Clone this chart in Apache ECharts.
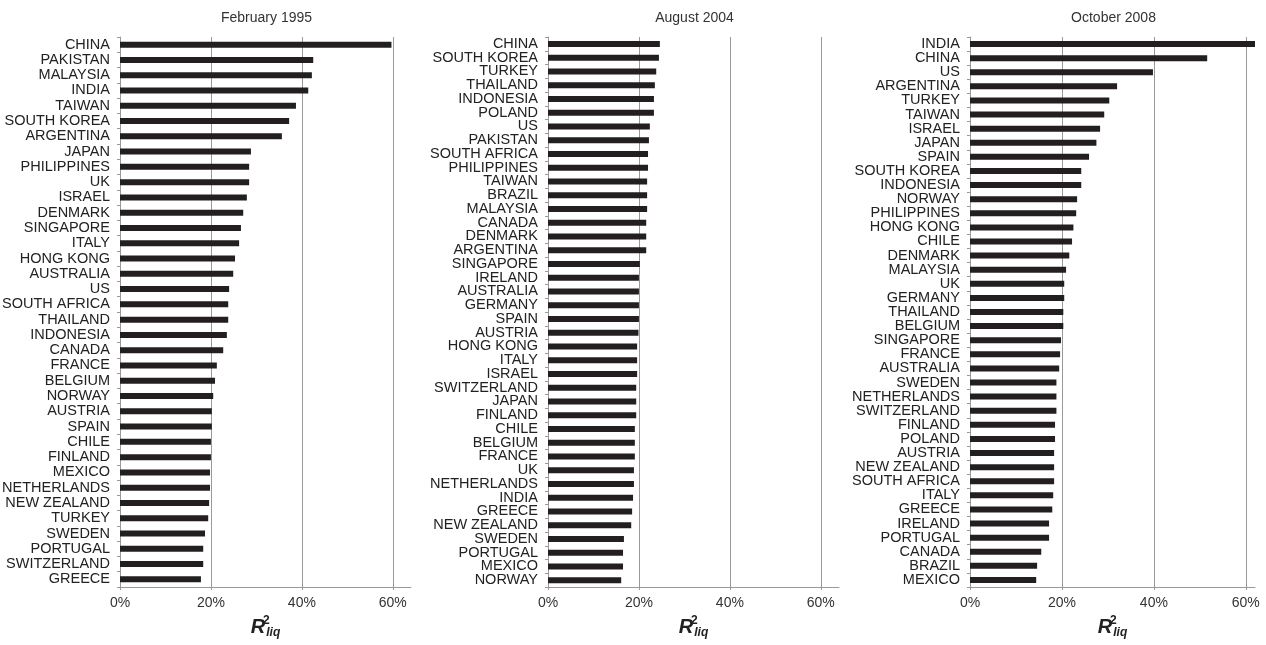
<!DOCTYPE html>
<html>
<head>
<meta charset="utf-8">
<script src="https://cdn.jsdelivr.net/npm/echarts@6/dist/echarts.min.js"></script>
<style>
  html, body { margin: 0; padding: 0; background: #fff; }
  #chart { width: 1266px; height: 645px; }
</style>
</head>
<body>
<div id="chart"></div>
<script>
// three snapshots of R2 liquidity by country (fractions)
const titles = ["February 1995", "August 2004", "October 2008"];

const countries1995 = ["CHINA", "PAKISTAN", "MALAYSIA", "INDIA", "TAIWAN", "SOUTH KOREA", "ARGENTINA", "JAPAN",
  "PHILIPPINES", "UK", "ISRAEL", "DENMARK", "SINGAPORE", "ITALY", "HONG KONG", "AUSTRALIA", "US",
  "SOUTH AFRICA", "THAILAND", "INDONESIA", "CANADA", "FRANCE", "BELGIUM", "NORWAY", "AUSTRIA", "SPAIN",
  "CHILE", "FINLAND", "MEXICO", "NETHERLANDS", "NEW ZEALAND", "TURKEY", "SWEDEN", "PORTUGAL",
  "SWITZERLAND", "GREECE"];
const values1995 = [0.597, 0.425, 0.422, 0.414, 0.387, 0.372, 0.356, 0.288, 0.284, 0.284, 0.279, 0.271,
  0.266, 0.262, 0.253, 0.249, 0.240, 0.238, 0.238, 0.235, 0.227, 0.213, 0.209, 0.205, 0.202, 0.202,
  0.200, 0.200, 0.198, 0.198, 0.196, 0.194, 0.187, 0.183, 0.183, 0.178];

const countries2004 = ["CHINA", "SOUTH KOREA", "TURKEY", "THAILAND", "INDONESIA", "POLAND", "US", "PAKISTAN",
  "SOUTH AFRICA", "PHILIPPINES", "TAIWAN", "BRAZIL", "MALAYSIA", "CANADA", "DENMARK", "ARGENTINA",
  "SINGAPORE", "IRELAND", "AUSTRALIA", "GERMANY", "SPAIN", "AUSTRIA", "HONG KONG", "ITALY", "ISRAEL",
  "SWITZERLAND", "JAPAN", "FINLAND", "CHILE", "BELGIUM", "FRANCE", "UK", "NETHERLANDS", "INDIA",
  "GREECE", "NEW ZEALAND", "SWEDEN", "PORTUGAL", "MEXICO", "NORWAY"];
const values2004 = [0.246, 0.244, 0.238, 0.235, 0.233, 0.233, 0.224, 0.222, 0.220, 0.220, 0.218, 0.218,
  0.218, 0.216, 0.216, 0.216, 0.202, 0.200, 0.200, 0.200, 0.200, 0.199, 0.196, 0.196, 0.196, 0.194,
  0.194, 0.194, 0.191, 0.191, 0.191, 0.189, 0.189, 0.187, 0.185, 0.183, 0.167, 0.165, 0.165, 0.161];

const countries2008 = ["INDIA", "CHINA", "US", "ARGENTINA", "TURKEY", "TAIWAN", "ISRAEL", "JAPAN", "SPAIN",
  "SOUTH KOREA", "INDONESIA", "NORWAY", "PHILIPPINES", "HONG KONG", "CHILE", "DENMARK", "MALAYSIA", "UK",
  "GERMANY", "THAILAND", "BELGIUM", "SINGAPORE", "FRANCE", "AUSTRALIA", "SWEDEN", "NETHERLANDS",
  "SWITZERLAND", "FINLAND", "POLAND", "AUSTRIA", "NEW ZEALAND", "SOUTH AFRICA", "ITALY", "GREECE",
  "IRELAND", "PORTUGAL", "CANADA", "BRAZIL", "MEXICO"];
const values2008 = [0.620, 0.516, 0.398, 0.320, 0.303, 0.292, 0.283, 0.275, 0.259, 0.242, 0.242, 0.233,
  0.231, 0.225, 0.222, 0.216, 0.209, 0.205, 0.205, 0.203, 0.203, 0.198, 0.196, 0.194, 0.188, 0.188,
  0.188, 0.185, 0.185, 0.183, 0.183, 0.183, 0.181, 0.179, 0.172, 0.172, 0.155, 0.146, 0.144];

const xTicks = [0, 0.2, 0.4, 0.6];

const panels = [
  { names: countries1995, values: values1995, left: 120, width: 291, max: 0.64 },
  { names: countries2004, values: values2004, left: 548, width: 291, max: 0.64 },
  { names: countries2008, values: values2008, left: 970, width: 285, max: 0.62 }
];

const chart = echarts.init(document.getElementById("chart"));

const font = "'Liberation Sans', Arial, sans-serif";

chart.setOption({
  animation: false,
  backgroundColor: "#fff",
  textStyle: { fontFamily: font },
  title: panels.map((p, i) => ({
    text: titles[i],
    left: p.left + p.width / 2 - 4,
    top: 6,
    textAlign: "center",
    textStyle: { fontSize: 14, fontWeight: "normal", color: "#333", fontFamily: font }
  })),
  grid: panels.map(p => ({
    left: p.left,
    width: p.width,
    top: 37,
    height: 550,
    containLabel: false,
    outerBoundsMode: "none"
  })),
  xAxis: panels.map((p, i) => ({
    type: "value",
    gridIndex: i,
    min: 0,
    max: p.max,
    interval: 0.2,
    name: "{r|R}{sup|2}{sub|liq}",
    nameLocation: "middle",
    nameGap: 28,
    nameTextStyle: {
      rich: {
        r: { fontSize: 20, fontWeight: "bold", fontStyle: "italic", color: "#222", lineHeight: 24, fontFamily: font },
        sup: { fontSize: 12, fontWeight: "bold", color: "#222", verticalAlign: "top", lineHeight: 12, width: 0, padding: [0, 0, 0, 1], fontFamily: font },
        sub: { fontSize: 12, fontWeight: "bold", fontStyle: "italic", color: "#222", verticalAlign: "bottom", lineHeight: 12, fontFamily: font }
      }
    },
    axisLine: { show: true, lineStyle: { color: "#999", width: 1 } },
    axisTick: { show: true, length: 3, lineStyle: { color: "#999" }, customValues: xTicks },
    axisLabel: {
      customValues: xTicks,
      margin: 9,
      fontSize: 14,
      color: "#333",
      formatter: v => Math.round(v * 100) + "%"
    },
    splitLine: {
      show: true,
      lineStyle: { color: ["#999", "#999", "#999", "#999", "rgba(0,0,0,0)"], width: 1 }
    }
  })),
  yAxis: panels.map((p, i) => ({
    type: "category",
    gridIndex: i,
    inverse: true,
    data: p.names,
    axisLine: { show: true, lineStyle: { color: "#999", width: 1 } },
    axisTick: { show: true, length: 3, alignWithLabel: false, lineStyle: { color: "#999" } },
    axisLabel: { interval: 0, fontSize: 14.5, color: "#222", margin: 10 },
    splitLine: { show: false }
  })),
  series: panels.map((p, i) => ({
    type: "bar",
    xAxisIndex: i,
    yAxisIndex: i,
    data: p.values,
    barWidth: 6,
    itemStyle: { color: "#231f20" },
    silent: true
  }))
});
</script>
</body>
</html>
